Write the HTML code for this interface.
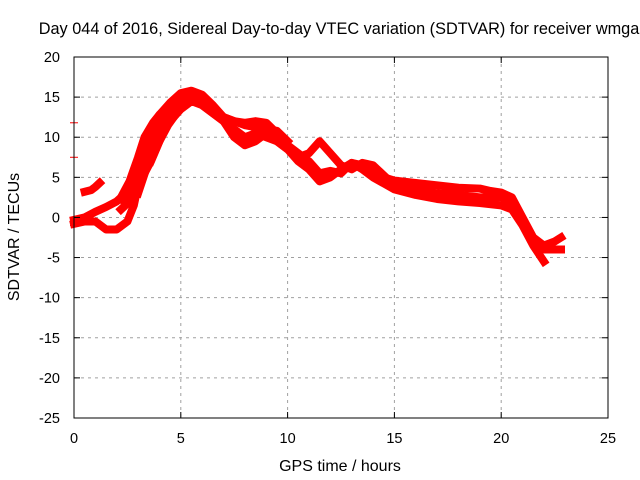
<!DOCTYPE html>
<html><head><meta charset="utf-8"><style>
html,body{margin:0;padding:0;background:#fff;}
svg{display:block;font-family:"Liberation Sans",sans-serif;}
</style></head><body>
<svg id="chart" width="640" height="480" viewBox="0 0 640 480">
<text x="339" y="34" text-anchor="middle" font-size="16.3" fill="#000">Day 044 of 2016, Sidereal Day-to-day VTEC variation (SDTVAR) for receiver wmga</text>
<g id="grid"></g>
<g id="series"></g>
<g id="axes"></g>
<text x="340" y="471" text-anchor="middle" font-size="16">GPS time / hours</text>
<text transform="translate(19,237) rotate(-90)" text-anchor="middle" font-size="16">SDTVAR / TECUs</text>
</svg>
<script>
const xTicks=[0,5,10,15,20,25];
const yTicks=[20,15,10,5,0,-5,-10,-15,-20,-25];
const s1x=[0.5,0.8,1,1.2];
const s1y=[3.2,3.4,3.8,4.3];
const s2x=[0,0.5,1,1.5,2,2.5,3,3.5,4,4.5,5,5.5,6,6.5,7,7.5,8,8.5,9,9.5,10,10.5,11,11.5,12,12.5,13,13.5,14,14.5,15,16,17,18,19,19.5,20,20.5,21,21.5,22,22.5,22.8];
const s2y=[-0.3,0,0.7,1.3,2,3.2,5.5,9,11.5,13,14,15.2,15,13.5,12.5,12,11.8,12,11.8,10.5,9,8,7,5.5,5.8,5.5,6.8,6.5,5.5,5,4.6,4.3,4,3.7,3.6,3.3,3.1,2.5,0,-2.5,-3.5,-3,-2.5];
const s3x=[0,0.5,1,1.5,2,2.5,2.8,3,3.5,4,5,5.5,6,7,7.5,8,8.5,9,10,10.5,11,11.5,12,12.5,13,13.5,14,15,16,17,18,19,20,20.5,21,21.5,22];
const s3y=[-0.8,-0.5,-0.5,-1.5,-1.5,-0.5,1.5,4,9,12,14.5,15.5,14,12,10,9,9.5,10.5,8.5,7,6,4.5,5,6,6.8,6,5,3.5,2.8,2.3,2,1.8,1.5,1,-1,-3.5,-5.5];
const s4x=[3,3.5,4,4.5,5,5.5,6,6.5,7,7.5,8,8.5,9,9.5,10,10.5,11,11.5,12,12.5,13,13.5,14,15,16,17,18,19,20,20.5,21,21.5,22,22.8];
const s4y=[3,7,10,12,13.5,14.5,14,13,12,11,10,10.5,10,9.5,8.5,7.5,8,9.5,8,6.5,6,6.8,6.5,4,3.5,3,2.8,2.5,2.5,2,-0.5,-3,-4,-4];
const s5x=[2.4,3,3.5,4,4.5,5,5.5,6,6.5,7,8,9,9.5,10];
const s5y=[2,6,10.5,12.8,14.3,15.5,15.8,15.3,14,12.5,11.5,11,10.8,9.5];
const s6x=[2.2,2.8,3.2,3.6,4];
const s6y=[1,2.5,5,7,9.5];
const s7x=[2.2,2.6,3,3.3,3.7,4,4.5,5];
const s7y=[2.5,4.5,7.5,10,11.8,12.8,13.8,14.8];
const s8x=[3.6,4,4.4,4.8];
const s8y=[7,9.5,11.5,13];
const markX=[0,0,0];
const markY=[11.8,7.5,-1];
const L=74,R=608,T=57,B=418;
const X=v=>L+(v-0)/25*(R-L);
const Y=v=>T+(20-v)/45*(B-T);
const NS='http://www.w3.org/2000/svg';
function mk(tag,attrs,parent){const e=document.createElementNS(NS,tag);for(const k in attrs)e.setAttribute(k,attrs[k]);parent.appendChild(e);return e;}
const grid=document.getElementById('grid'),axes=document.getElementById('axes'),ser=document.getElementById('series');
xTicks.forEach(t=>{
  if(t>0&&t<25){const g=mk('line',{x1:X(t),x2:X(t),y1:T,y2:B,stroke:'#a0a0a0','stroke-dasharray':'3,4'},grid);
  
  }
  const a=mk('line',{x1:X(t),x2:X(t),y1:B,y2:B-6,stroke:'#000'},axes);
  
  
  const b=mk('line',{x1:X(t),x2:X(t),y1:T,y2:T+6,stroke:'#000'},axes);
  
  
  const tx=mk('text',{x:X(t),y:B+25,'text-anchor':'middle','font-size':'14.5'},axes);tx.textContent=t;
  
  
});
yTicks.forEach(t=>{
  if(t<20&&t>-25){const g=mk('line',{x1:L,x2:R,y1:Y(t),y2:Y(t),stroke:'#a0a0a0','stroke-dasharray':'3,4'},grid);
  
  }
  const a=mk('line',{x1:L,x2:L+6,y1:Y(t),y2:Y(t),stroke:'#000'},axes);
  
  
  const b=mk('line',{x1:R,x2:R-6,y1:Y(t),y2:Y(t),stroke:'#000'},axes);
  
  
  const tx=mk('text',{x:L-14,y:Y(t)+5,'text-anchor':'end','font-size':'14.5'},axes);tx.textContent=t;
  
  
});
const box=mk('rect',{x:L,y:T,width:R-L,height:B-T,fill:'none',stroke:'#000'},axes);


[[s1x,s1y],[s2x,s2y],[s3x,s3y],[s4x,s4y],[s5x,s5y],[s6x,s6y],[s7x,s7y],[s8x,s8y]].forEach((s,i)=>{
  const pts=s[0].map((x,j)=>X(x)+','+Y(s[1][j])).join(' ');
  const p=mk('polyline',{points:pts,fill:'none',stroke:'#ff0000','stroke-width':'8','stroke-linejoin':'round','stroke-linecap':'square'},ser);
  
  
});
markX.forEach((x,i)=>{
  const m=mk('line',{x1:X(x)-4,x2:X(x)+4,y1:Y(markY[i]),y2:Y(markY[i]),stroke:'#ff0000','stroke-width':'1'},ser);
  
  
});
</script>
</body></html>
